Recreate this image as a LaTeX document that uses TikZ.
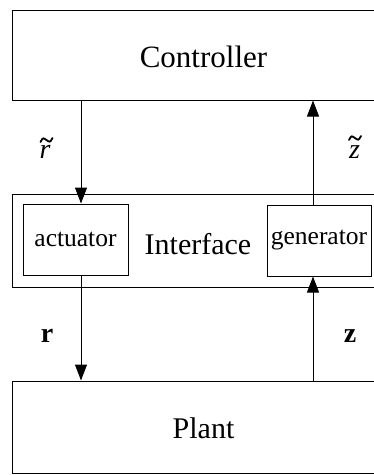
\documentclass[tikz,border=0pt]{standalone}
\usepackage{fontspec}
\setmainfont{Liberation Serif}
\usetikzlibrary{arrows.meta}
\begin{document}
\begin{tikzpicture}[x=1pt,y=-1pt,
  box/.style={draw, line width=1pt, inner sep=0pt},
  sig/.style={line width=1pt, -{Triangle[width=12pt,length=16pt]}},
  lbl/.style={inner sep=0pt},
  tildestroke/.style={line width=1.8pt, line cap=round},
  tilde/.style={insert path={++(-6,2) .. controls ++(2.5,-5) and ++(-3,-2) .. ++(6,-2) .. controls ++(3,2) and ++(-2.5,5) .. ++(6,-2)}}]
\useasboundingbox (0,0) rectangle (374,475);
\clip (0,0) rectangle (374,475);
\node[box, minimum width=383pt, minimum height=90pt] (controller) at (203.5,55) {};
\node[lbl, font=\fontsize{31}{34}\selectfont] (ctext) at (203.5,57) {Controller};
\node[box, minimum width=383pt, minimum height=93pt] (interface) at (203.5,240.5) {};
\node[lbl, font=\fontsize{30}{34}\selectfont] (itext) at (198,244) {Interface};
\node[box, minimum width=105pt, minimum height=71pt, font=\fontsize{25.5}{28}\selectfont] (actuator) at (75.5,239.5) {actuator};
\node[box, minimum width=104pt, minimum height=71pt, font=\fontsize{25.5}{28}\selectfont] (generator) at (319,240.5) {generator};
\node[box, minimum width=383pt, minimum height=92pt] (plant) at (203.5,427) {};
\node[lbl, font=\fontsize{30}{34}\selectfont] (ptext) at (203.5,428) {Plant};
\coordinate (xl) at (81,0);
\coordinate (xr) at (313,0);
\draw[sig] (controller.south -| xl) -- (actuator.north -| xl);
\draw[sig] (actuator.south -| xl) -- (plant.north -| xl);
\draw[sig] (generator.north -| xr) -- (controller.south -| xr);
\draw[sig] (plant.north -| xr) -- (generator.south -| xr);
\node[lbl, font=\fontsize{28}{30}\selectfont\itshape] (rt) at (45,152) {r};
\node[lbl, font=\fontsize{28}{30}\selectfont\itshape] (zt) at (354.5,152) {z};
\draw[tildestroke] (46.5,140) [tilde];
\draw[tildestroke] (355,138) [tilde];
\node[lbl, font=\fontsize{28}{30}\selectfont\bfseries] (rb) at (47,336) {r};
\node[lbl, font=\fontsize{28}{30}\selectfont\bfseries] (zb) at (350,336) {z};
\end{tikzpicture}
\end{document}
